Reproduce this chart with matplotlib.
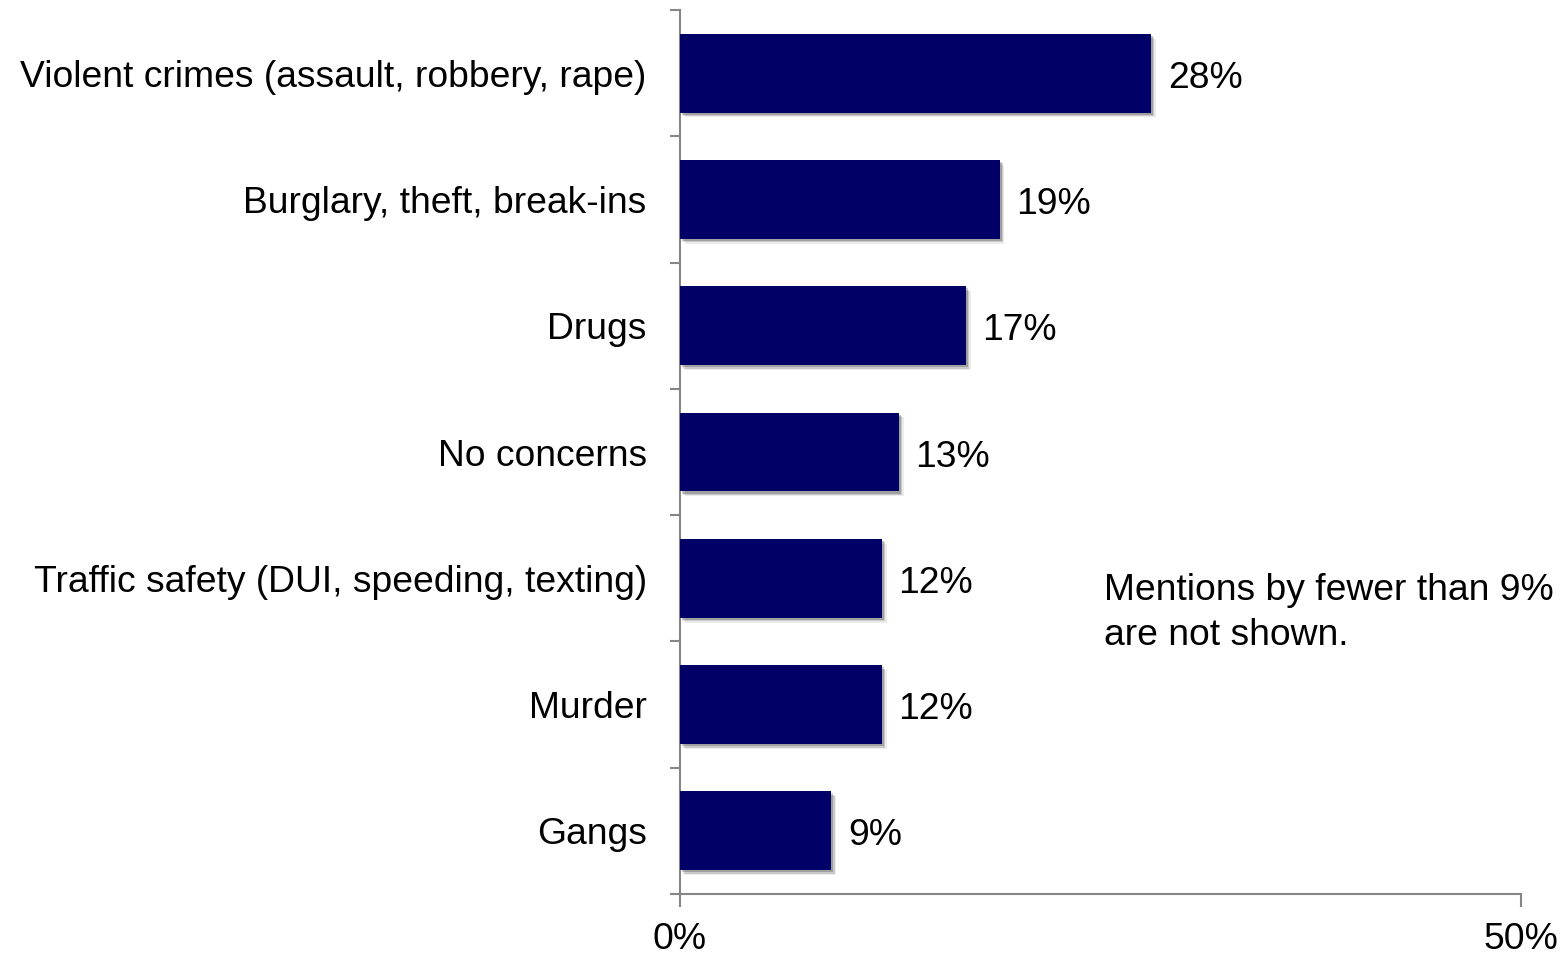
import matplotlib
matplotlib.use("Agg")
import matplotlib.pyplot as plt
import matplotlib.patheffects as pe

categories = [
    "Violent crimes (assault, robbery, rape)",
    "Burglary, theft, break-ins",
    "Drugs",
    "No concerns",
    "Traffic safety (DUI, speeding, texting)",
    "Murder",
    "Gangs",
]
values = [28, 19, 17, 13, 12, 12, 9]
x_ticks = [0, 50]
x_tick_labels = ["0%", "50%"]
note = "Mentions by fewer than 9%\nare not shown."

plt.rcParams["font.family"] = ["Liberation Sans", "DejaVu Sans"]

bar_color = "#000066"
axis_color = "#868686"
font_size = 26.8

fig = plt.figure(figsize=(15.6, 9.57), dpi=100)
ax = fig.add_axes([680 / 1560, 1 - 894 / 957, (1521 - 680) / 1560, (894 - 10) / 957])

n = len(categories)
positions = list(range(n))
bars = ax.barh(positions, values, height=0.625, color=bar_color, zorder=3)
for b in bars:
    b.set_path_effects([
        pe.SimplePatchShadow(offset=(3.5, -3.5), shadow_rgbFace="#000000", alpha=0.08),
        pe.SimplePatchShadow(offset=(2.5, -2.5), shadow_rgbFace="#000000", alpha=0.14),
        pe.SimplePatchShadow(offset=(1.5, -1.5), shadow_rgbFace="#000000", alpha=0.2),
        pe.Normal(),
    ])

for p, v in zip(positions, values):
    ax.annotate(f"{v}%", xy=(v, p), xytext=(12, -10.5), textcoords="offset points",
                va="baseline", ha="left", fontsize=font_size, color="#000000")

ax.set_xlim(0, 50)
ax.set_ylim(n - 0.5, -0.5)

# category labels sit between boundary ticks
ax.set_yticks(positions)
ax.set_yticklabels(categories, fontsize=font_size)
ax.tick_params(axis="y", which="major", length=0, pad=24)
ax.set_yticks([i - 0.5 for i in range(n + 1)], minor=True)
ax.tick_params(axis="y", which="minor", length=7, width=1.5, color=axis_color, direction="out")

ax.set_xticks(x_ticks)
ax.set_xticklabels(x_tick_labels, fontsize=font_size)
ax.tick_params(axis="x", length=9, width=1.5, color=axis_color, direction="out", pad=11)

for side in ("top", "right"):
    ax.spines[side].set_visible(False)
for side in ("left", "bottom"):
    ax.spines[side].set_color(axis_color)
    ax.spines[side].set_linewidth(1.5)

fig.text(1104 / 1560, 1 - 573 / 957, note, fontsize=font_size, ha="left", va="top",
         linespacing=1.38, color="#000000")

fig.savefig("out.png", dpi=100)
